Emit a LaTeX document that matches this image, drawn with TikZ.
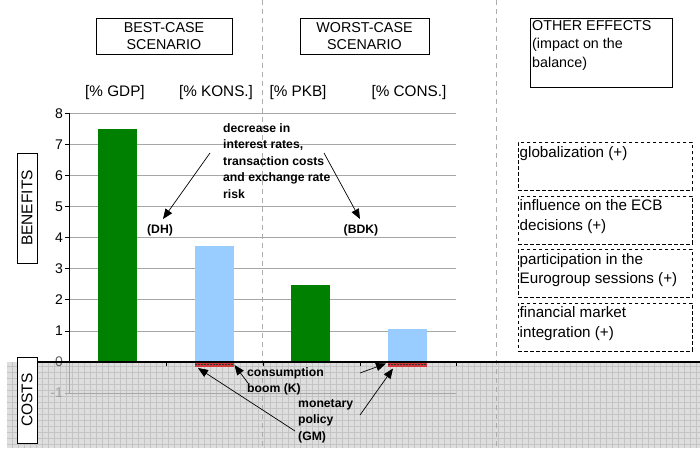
\documentclass[tikz,border=0pt]{standalone}
\usepackage{fontspec}
\setmainfont{Liberation Sans}
\usetikzlibrary{arrows.meta}
\definecolor{barGreen}{HTML}{008000}
\definecolor{barBlue}{HTML}{99CCFF}
\definecolor{negRed}{HTML}{D03A3A}
\definecolor{shadeFill}{HTML}{DEDEDE}
\definecolor{shadeGrid}{HTML}{C4C4C4}
\definecolor{gridGray}{HTML}{A6A6A6}
\begin{document}
\begin{tikzpicture}[x=1pt,y=-1pt,
  gridline/.style={draw=gridGray, line width=0.8pt},
  sepline/.style={draw=gray!65, dash pattern=on 5pt off 4pt, line width=0.8pt},
  headbox/.style={draw, line width=0.8pt, align=center, inner sep=0pt,
    font=\fontsize{14.3}{17}\selectfont},
  catlabel/.style={font=\fontsize{15.3}{18}\selectfont, inner sep=0pt},
  effbox/.style={draw, dashed, dash pattern=on 3.5pt off 2.5pt, line width=0.8pt,
    anchor=north west, minimum width=174pt, minimum height=48pt,
    text width=170pt, align=left, inner sep=0pt},
  efftext/.style={anchor=north west, align=left, inner sep=0pt,
    font=\fontsize{15.2}{19.5}\selectfont},
  sidebox/.style={draw, line width=0.8pt, fill=white, rotate=90, inner sep=0pt,
    font=\fontsize{15.5}{18}\selectfont},
  annot/.style={font=\bfseries\fontsize{12.2}{16.5}\selectfont, align=left, inner sep=0pt},
  ylab/.style={anchor=east, inner sep=0pt, font=\fontsize{14}{16}\selectfont},
  annarrow/.style={-{Triangle[length=10pt,width=8pt]}, line width=0.7pt}
]
\useasboundingbox (0,0) rectangle (700,448);

% shaded cost area
\fill[shadeFill] (7,362) rectangle (700,448);
\begin{scope}
  \clip (7,362) rectangle (700,448);
  \draw[shadeGrid, line width=0.6pt, step=6pt] (7,362) grid (700,448);
\end{scope}

% separators
\draw[sepline] (262,0) -- (262,448);
\draw[sepline] (496,0) -- (496,448);

% gridlines
\foreach \v in {1,...,8} {
  \draw[gridline] (69,{362-31.1*\v}) -- (456,{362-31.1*\v});
}
\draw[gridline] (69,393.1) -- (456,393.1);

% axis and ticks
\draw[line width=0.8pt] (69,113.2) -- (69,362);
\draw[gridGray, line width=0.8pt] (69,362) -- (69,393.1);
\foreach \v in {0,...,8} {
  \draw[line width=0.8pt] (65,{362-31.1*\v}) -- (69,{362-31.1*\v});
}
\draw[gridGray, line width=0.8pt] (65,393.1) -- (69,393.1);
\foreach \v in {1,...,8} {
  \node[ylab] (yl\v) at (63,{362-31.1*\v}) {\v};
}
\node[ylab, text=gray!75!black] (yl0) at (63,362) {0};
\node[ylab, text=gray!75] (ylm1) at (63,393.1) {-1};
\foreach \x in {166,263,360,456} {
  \draw[line width=0.8pt] (\x,362) -- (\x,366);
}

% bars
\fill[barGreen] (98,362) rectangle (137,128.75);
\fill[barBlue] (195,362) rectangle (234,246);
\fill[barGreen] (291,362) rectangle (330,284.9);
\fill[barBlue] (388,362) rectangle (427,329.3);

% negative bars
\fill[negRed] (195,362) rectangle (234,366.5);
\draw[black!80, dash pattern=on 2pt off 1pt, line width=0.8pt] (195,364.5) -- (234,364.5);
\fill[negRed] (388,362) rectangle (427,366.5);
\draw[black!80, dash pattern=on 2pt off 1pt, line width=0.8pt] (388,364.5) -- (427,364.5);

% zero line
\draw[line width=1.4pt] (37,362) -- (700,362);

% side boxes
\node[sidebox, minimum width=110pt, minimum height=20pt] (benefits) at (27,208) {BENEFITS};
\node[sidebox, minimum width=86pt, minimum height=20pt] (costs) at (27,400) {COSTS};

% headers
\node[headbox, minimum width=136pt, minimum height=36pt] (best) at (164,36) {BEST-CASE\\SCENARIO};
\node[headbox, minimum width=129pt, minimum height=36pt] (worst) at (364.5,36) {WORST-CASE\\SCENARIO};
\node[draw, line width=0.8pt, anchor=north west, minimum width=142pt, minimum height=69pt, inner sep=0pt] (other) at (530,18) {};
\node[efftext, font=\fontsize{14.3}{18.5}\selectfont] (othertext) at (532,20) {OTHER EFFECTS\\(impact on the\\balance)};

% category labels
\node[catlabel] (c1) at (115,93) {[\% GDP]};
\node[catlabel] (c2) at (216,93) {[\% KONS.]};
\node[catlabel] (c3) at (298,93) {[\% PKB]};
\node[catlabel] (c4) at (409,93) {[\% CONS.]};

% other effects boxes
\node[effbox] (e1) at (518,142) {};
\node[efftext] (e1t) at (519.5,146) {globalization (+)};
\node[effbox] (e2) at (518,195.5) {};
\node[efftext] (e2t) at (519.5,199.5) {influence on the ECB\\decisions (+)};
\node[effbox] (e3) at (518,249) {};
\node[efftext] (e3t) at (519.5,253) {participation in the\\Eurogroup sessions (+)};
\node[effbox] (e4) at (518,302.5) {};
\node[efftext] (e4t) at (519.5,306.5) {financial market\\integration (+)};

% annotations
\node[annot, anchor=north west] (decr) at (223,123) {decrease in\\interest rates,\\transaction costs\\and exchange rate\\risk};
\node[annot] (dh) at (160,230) {(DH)};
\node[annot] (bdk) at (361,230) {(BDK)};
\node[annot, anchor=north west] (cons) at (247,367) {consumption\\boom (K)};
\node[annot, anchor=north west] (gm) at (298,399) {monetary\\policy\\(GM)};

% arrow endpoints
\coordinate (a1s) at (210,153);
\coordinate (a1e) at (163,219);
\coordinate (a2s) at (324,153);
\coordinate (a2e) at (360,219);
\coordinate (a3s) at (248,383);
\coordinate (a3e) at (234.5,365);
\coordinate (a4s) at (295,431);
\coordinate (a4e) at (198,368);
\coordinate (a5s) at (360,373);
\coordinate (a5e) at (386,363.5);
\coordinate (a6s) at (360,415);
\coordinate (a6e) at (393,368.5);

\draw[annarrow] (a1s) -- (a1e);
\draw[annarrow] (a2s) -- (a2e);
\draw[annarrow] (a3s) -- (a3e);
\draw[annarrow] (a4s) -- (a4e);
\draw[annarrow] (a5s) -- (a5e);
\draw[annarrow] (a6s) -- (a6e);
\end{tikzpicture}
\end{document}
